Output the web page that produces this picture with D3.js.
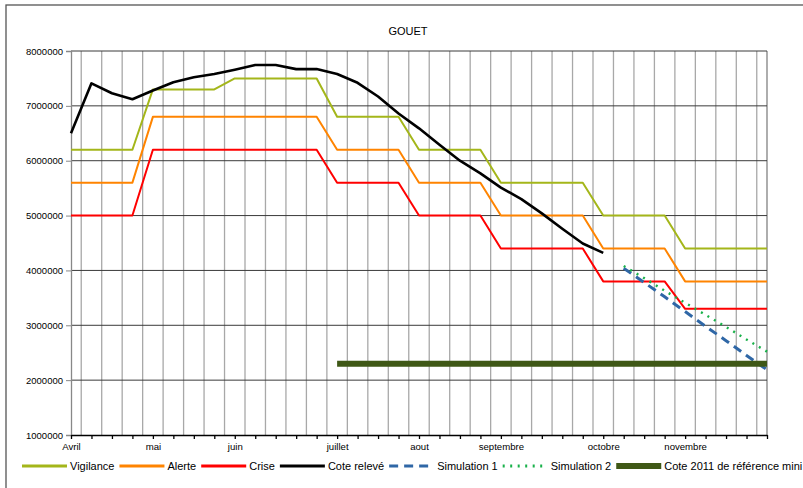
<!DOCTYPE html>
<html>

    <head>
        <meta charset="utf-8">
        <title>GOUET</title>
        <script src="https://d3js.org/d3.v7.min.js"></script>
        <style>
            body { margin: 0; background: #fff; }
            text { font-family: "Liberation Sans", Arial, sans-serif; fill: #000; }
        </style>
    </head>

    <body>
        <div id="chart-container"></div>

        <script>
            // Weekly categories (35 weeks, label only on month start)
            const weekLabels = [
                "Avril", "", "", "", "mai", "", "", "", "juin", "", "", "", "",
                "juillet", "", "", "", "aout", "", "", "", "septembre", "", "", "", "",
                "octobre", "", "", "", "novembre", "", "", "", ""
            ];

            const yTicks = [1000000, 2000000, 3000000, 4000000, 5000000, 6000000, 7000000, 8000000];

            const vigilance = [
                6200000, 6200000, 6200000, 6200000, 7300000, 7300000, 7300000, 7300000,
                7500000, 7500000, 7500000, 7500000, 7500000, 6800000, 6800000, 6800000, 6800000,
                6200000, 6200000, 6200000, 6200000, 5600000, 5600000, 5600000, 5600000, 5600000,
                5000000, 5000000, 5000000, 5000000, 4400000, 4400000, 4400000, 4400000, 4400000
            ];
            const alerte = [
                5600000, 5600000, 5600000, 5600000, 6800000, 6800000, 6800000, 6800000,
                6800000, 6800000, 6800000, 6800000, 6800000, 6200000, 6200000, 6200000, 6200000,
                5600000, 5600000, 5600000, 5600000, 5000000, 5000000, 5000000, 5000000, 5000000,
                4400000, 4400000, 4400000, 4400000, 3800000, 3800000, 3800000, 3800000, 3800000
            ];
            const crise = [
                5000000, 5000000, 5000000, 5000000, 6200000, 6200000, 6200000, 6200000,
                6200000, 6200000, 6200000, 6200000, 6200000, 5600000, 5600000, 5600000, 5600000,
                5000000, 5000000, 5000000, 5000000, 4400000, 4400000, 4400000, 4400000, 4400000,
                3800000, 3800000, 3800000, 3800000, 3300000, 3300000, 3300000, 3300000, 3300000
            ];
            const coteReleve = [
                6500000, 7410000, 7230000, 7120000, 7280000, 7430000, 7520000, 7580000,
                7660000, 7745000, 7745000, 7670000, 7670000, 7580000, 7420000, 7170000, 6860000,
                6590000, 6290000, 6000000, 5770000, 5510000, 5300000, 5040000, 4760000, 4490000,
                4320000, null, null, null, null, null, null, null, null
            ];
            const simulation1 = [
                null, null, null, null, null, null, null, null, null, null, null, null, null,
                null, null, null, null, null, null, null, null, null, null, null, null, null, null,
                4040000, 3780000, 3520000, 3250000, 2980000, 2720000, 2450000, 2190000
            ];
            const simulation2 = [
                null, null, null, null, null, null, null, null, null, null, null, null, null,
                null, null, null, null, null, null, null, null, null, null, null, null, null, null,
                4080000, 3860000, 3630000, 3410000, 3190000, 2970000, 2740000, 2520000
            ];
            const coteReference = [
                null, null, null, null, null, null, null, null, null, null, null, null, null,
                2300000, 2300000, 2300000, 2300000, 2300000, 2300000, 2300000, 2300000, 2300000,
                2300000, 2300000, 2300000, 2300000, 2300000, 2300000, 2300000, 2300000, 2300000,
                2300000, 2300000, 2300000, 2300000
            ];

            const series = [
                { name: "Vigilance", values: vigilance, color: "#a4b61a", width: 2 },
                { name: "Alerte", values: alerte, color: "#ff8400", width: 2 },
                { name: "Crise", values: crise, color: "#ff0000", width: 2 },
                { name: "Cote relevé", values: coteReleve, color: "#000000", width: 2.6 },
                { name: "Simulation 1", values: simulation1, color: "#2f67a6", width: 3, dash: "9,6" },
                { name: "Simulation 2", values: simulation2, color: "#19b14a", width: 2.4, dash: "2,5.5" },
                { name: "Cote 2011 de référence mini", values: coteReference, color: "#3f5816", width: 6 }
            ];

            const width = 803;
            const height = 488;
            const plotLeft = 71, plotRight = 767, plotTop = 51, plotBottom = 435;

            const svg = d3.select( "#chart-container" )
                .append( "svg" )
                .attr( "width", width )
                .attr( "height", height );

            // outer chart frame (runs off right / bottom edges)
            svg.append( "rect" )
                .attr( "x", 6 ).attr( "y", 5 )
                .attr( "width", 820 ).attr( "height", 500 )
                .attr( "fill", "none" )
                .attr( "stroke", "#555" )
                .attr( "stroke-width", 1.3 );

            const x = d3.scalePoint()
                .domain( d3.range( weekLabels.length ) )
                .range( [plotLeft, plotRight] );
            const step = x.step();

            const y = d3.scaleLinear()
                .domain( [1000000, 8000000] )
                .range( [plotBottom, plotTop] );

            // vertical gridlines, halfway between categories
            svg.append( "g" )
                .selectAll( "line" )
                .data( d3.range( weekLabels.length - 1 ) )
                .enter()
                .append( "line" )
                .attr( "x1", d => x( d ) + step / 2 )
                .attr( "x2", d => x( d ) + step / 2 )
                .attr( "y1", plotTop )
                .attr( "y2", plotBottom )
                .attr( "stroke", "#a8a8a8" )
                .attr( "stroke-width", 1.3 );

            svg.append( "line" )
                .attr( "x1", plotRight ).attr( "x2", plotRight )
                .attr( "y1", plotTop ).attr( "y2", plotBottom )
                .attr( "stroke", "#777" ).attr( "stroke-width", 1.2 );

            // horizontal gridlines
            svg.append( "g" )
                .selectAll( "line" )
                .data( yTicks.slice( 1 ) )
                .enter()
                .append( "line" )
                .attr( "x1", plotLeft )
                .attr( "x2", plotRight )
                .attr( "y1", d => y( d ) )
                .attr( "y2", d => y( d ) )
                .attr( "stroke", "#3a3a3a" )
                .attr( "stroke-width", 1 );

            // y axis
            const yAxis = svg.append( "g" )
                .attr( "transform", `translate(${ plotLeft },0)` )
                .call( d3.axisLeft( y ).tickValues( yTicks ).tickFormat( d3.format( "d" ) ).tickSize( 5 ).tickPadding( 3 ) );
            yAxis.select( ".domain" ).attr( "stroke", "#888" ).attr( "stroke-width", 1.3 );
            yAxis.selectAll( ".tick line" ).attr( "stroke", "#888" );
            yAxis.selectAll( "text" )
                .style( "font-family", "'Liberation Sans', Arial, sans-serif" )
                .style( "font-size", "9.5px" )
                .attr( "fill", "#000" );

            // x axis
            const xAxis = svg.append( "g" )
                .attr( "transform", `translate(0,${ plotBottom })` )
                .call( d3.axisBottom( x ).tickFormat( i => weekLabels[i] ).tickSize( 4 ).tickPadding( 4 ).tickSizeOuter( 0 ) );
            xAxis.select( ".domain" ).attr( "stroke", "#000" ).attr( "stroke-width", 1.5 );
            xAxis.selectAll( ".tick line" ).attr( "stroke", "#000" ).attr( "stroke-width", 1.3 );
            xAxis.selectAll( "text" )
                .style( "font-family", "'Liberation Sans', Arial, sans-serif" )
                .style( "font-size", "9.6px" )
                .attr( "fill", "#000" );

            // series lines
            const line = d3.line()
                .defined( d => d !== null )
                .x( ( d, i ) => x( i ) )
                .y( d => y( d ) );

            svg.append( "g" )
                .selectAll( "path" )
                .data( series )
                .enter()
                .append( "path" )
                .attr( "d", d => line( d.values ) )
                .attr( "fill", "none" )
                .attr( "stroke", d => d.color )
                .attr( "stroke-width", d => d.width )
                .attr( "stroke-dasharray", d => d.dash || null )
                .attr( "stroke-linejoin", "round" );

            // title
            svg.append( "text" )
                .attr( "x", 408 )
                .attr( "y", 35 )
                .attr( "text-anchor", "middle" )
                .style( "font-size", "11px" )
                .text( "GOUET" );

            // legend, laid out left to right
            let lx = 22;
            const ly = 466;
            series.forEach( s =>
            {
                svg.append( "line" )
                    .attr( "x1", lx ).attr( "x2", lx + 45 )
                    .attr( "y1", ly ).attr( "y2", ly )
                    .attr( "stroke", s.color )
                    .attr( "stroke-width", s.width === 6 ? 6 : 3 )
                    .attr( "stroke-dasharray", s.dash || null );
                const t = svg.append( "text" )
                    .attr( "x", lx + 48 )
                    .attr( "y", ly + 4 )
                    .style( "font-size", "11px" )
                    .text( s.name );
                lx += 48 + t.node().getComputedTextLength() + 5;
            } );
        </script>
    </body>

</html>
